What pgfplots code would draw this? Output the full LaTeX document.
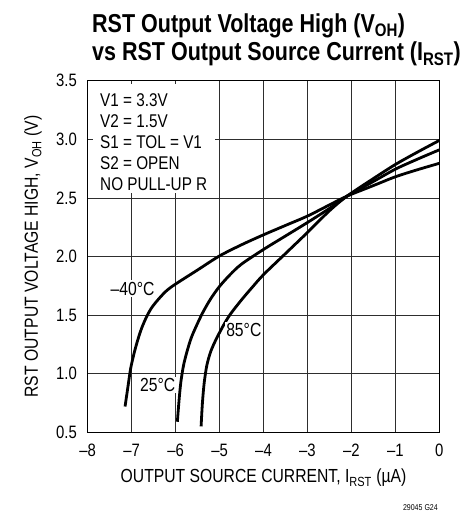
\documentclass[border=0pt]{standalone}
\usepackage{fontspec}
\setmainfont{Liberation Sans}[FakeStretch=0.83]
\usepackage{pgfplots}
\pgfplotsset{compat=1.18}
\begin{document}
\begin{tikzpicture}[x=1bp,y=1bp]
\useasboundingbox (0,0) rectangle (476,512);
\begin{axis}[
  at={(87.7bp,79.7bp)}, anchor=south west,
  scale only axis, width=351.6bp, height=351.6bp,
  xmin=-8, xmax=0, ymin=0.5, ymax=3.5,
  xtick={-8,-7,-6,-5,-4,-3,-2,-1,0},
  ytick={0.5,1.0,1.5,2.0,2.5,3.0,3.5},
  xticklabels={–8,–7,–6,–5,–4,–3,–2,–1,0},
  yticklabels={0.5,1.0,1.5,2.0,2.5,3.0,3.5},
  major tick length=0pt,
  grid=major,
  grid style={black!82, line width=0.7bp},
  axis line style={line width=1.3bp},
  tick label style={font=\fontsize{18}{18}\selectfont},
  xticklabel style={anchor=base, yshift=-24.7bp},
  yticklabel style={anchor=east, inner sep=0pt, xshift=-10.7bp},
  xlabel={OUTPUT SOURCE CURRENT, I\textsubscript{RST} (µA)},
  ylabel={RST OUTPUT VOLTAGE HIGH, V\textsubscript{OH} (V)},
  xlabel style={at={(axis description cs:0.5,-0.1442)}, anchor=base, inner sep=0pt, font=\fontsize{19}{19}\selectfont},
  ylabel style={at={(axis description cs:-0.14135,0.5)}, anchor=base, inner sep=0pt, font=\fontsize{19}{19}\selectfont},
]
\fill[white] (axis cs:-7.879,2.542) rectangle (axis cs:-5.103,3.472);
\node[anchor=base west, align=left, inner sep=0pt, font=\fontsize{18.5}{21}\selectfont] at (axis cs:-7.72,2.567) {V1 = 3.3V\\V2 = 1.5V\\S1 = TOL = V1\\S2 = OPEN\\NO PULL-UP R};
% -40 C
\addplot[black, line width=2.8bp, smooth] coordinates {
(-7.15,0.72) (-7.08,0.90) (-7.02,1.05) (-6.92,1.21) (-6.80,1.36) (-6.68,1.47) (-6.55,1.56) (-6.38,1.64) (-6.20,1.71) (-6.0,1.765) (-5.5,1.885) (-5.0,2.005) (-4.5,2.10) (-4.0,2.185) (-3.5,2.265) (-3.0,2.345) (-2.5,2.44) (-2.1,2.515) (-1.5,2.605) (-1.0,2.68) (-0.5,2.74) (0,2.795)};
% 25 C
\addplot[black, line width=2.8bp, smooth] coordinates {
(-5.96,0.59) (-5.92,0.78) (-5.88,0.93) (-5.82,1.07) (-5.74,1.19) (-5.64,1.31) (-5.5,1.43) (-5.37,1.53) (-5.2,1.64) (-5.0,1.745) (-4.76,1.845) (-4.5,1.935) (-4.0,2.06) (-3.5,2.175) (-3.0,2.29) (-2.5,2.41) (-2.1,2.515) (-1.5,2.64) (-1.0,2.745) (-0.5,2.83) (0,2.91)};
% 85 C
\addplot[black, line width=2.8bp, smooth] coordinates {
(-5.42,0.55) (-5.39,0.75) (-5.35,0.92) (-5.29,1.07) (-5.2,1.19) (-5.07,1.30) (-4.9,1.42) (-4.75,1.51) (-4.5,1.63) (-4.25,1.74) (-4.0,1.845) (-3.5,2.025) (-3.0,2.205) (-2.5,2.39) (-2.1,2.515) (-1.5,2.665) (-1.0,2.785) (-0.5,2.89) (0,2.99)};
\node[fill=white, inner sep=1.5bp, anchor=base, font=\fontsize{19}{19}\selectfont] at (axis cs:-6.98,1.671) {–40°C};
\node[fill=white, inner sep=1.5bp, anchor=base, font=\fontsize{19}{19}\selectfont] at (axis cs:-6.41,0.846) {25°C};
\node[fill=white, inner sep=1.5bp, anchor=base, font=\fontsize{19}{19}\selectfont] at (axis cs:-4.448,1.316) {85°C};
\end{axis}
\node[anchor=base west, align=left, inner sep=0pt, font=\bfseries\fontsize{26}{28.3}\selectfont] at (92,451) {RST Output Voltage High (V\textsubscript{OH})\\vs RST Output Source Current (I\textsubscript{RST})};
\node[anchor=base east, inner sep=0pt, font=\fontsize{8.5}{8.5}\selectfont] at (438,1) {29045 G24};
\end{tikzpicture}
\end{document}
